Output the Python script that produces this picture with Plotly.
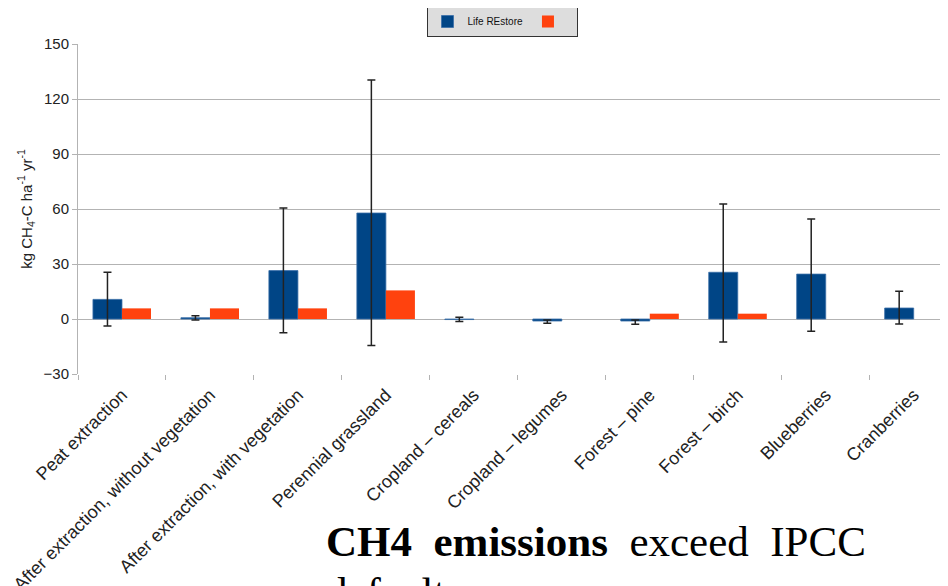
import plotly.graph_objects as go

categories = ["Peat extraction", "After extraction, without vegetation",
              "After extraction, with vegetation", "Perennial grassland",
              "Cropland – cereals", "Cropland – legumes", "Forest – pine",
              "Forest – birch", "Blueberries", "Cranberries"]
life_restore = [10.7, 0.7, 26.4, 57.8, -0.3, -1.1, -1.1, 25.5, 24.5, 6.0]
err_plus = [14.8, 1.1, 34.1, 72.6, 1.2, 0.6, 0.5, 37.2, 30.0, 9.1]
err_minus = [14.5, 1.2, 33.9, 72.3, 1.1, 1.2, 1.8, 38.1, 31.2, 8.7]
ipcc = [5.8, 5.8, 5.8, 15.6, None, None, 2.9, 2.9, None, None]
y_ticks = [-30, 0, 30, 60, 90, 120, 150]

W, H = 948, 586
OFF = 8  # page body margin offset
L, T = 78 - OFF, 44 - OFF
B = H - (374 - OFF)
R = W - (948 - OFF)
PH = H - T - B
PW = W - L - R


def py(pix):
    # screen pixel row -> paper y
    return (H - B - (pix - OFF)) / PH


def px(pix):
    return (pix - OFF - L) / PW


fig = go.Figure()
fig.add_trace(go.Bar(
    x=categories, y=life_restore, name="Life REstore",
    marker=dict(color="#004586", line=dict(color="#3a6fa8", width=0.8)),
    error_y=dict(type="data", symmetric=False, array=err_plus, arrayminus=err_minus,
                 color="#222222", thickness=1.5, width=4),
))
fig.add_trace(go.Bar(
    x=categories, y=ipcc, name=" ",
    marker=dict(color="#ff420e", line=dict(width=0)),
))

fig.update_layout(
    width=W, height=H,
    margin=dict(l=L, r=R, t=T, b=B, autoexpand=False),
    paper_bgcolor="white", plot_bgcolor="white",
    barmode="group", bargap=0.34, bargroupgap=0,
    font=dict(family="Liberation Sans, Arial, sans-serif", size=13, color="#222222"),
    showlegend=True,
    legend=dict(orientation="h", x=px(502), xanchor="center", y=py(6), yanchor="top",
                bgcolor="#dddddd", bordercolor="#333333", borderwidth=1,
                font=dict(size=10, color="#111111"), itemwidth=30,
                tracegroupgap=0),
    xaxis=dict(
        range=[-0.5, 9.39], tickangle=-45, tickson="boundaries",
        ticks="outside", ticklen=5, tickcolor="#b3b3b3", ticklabelstandoff=6,
        showline=False, showgrid=False, zeroline=False, automargin=False,
        tickfont=dict(size=18, color="#222222"),
    ),
    yaxis=dict(
        range=[-30, 150], tickvals=y_ticks, ticks="outside", ticklen=5,
        tickcolor="#b3b3b3", showline=True, linecolor="#b3b3b3", linewidth=1,
        showgrid=True, gridcolor="#b3b3b3", gridwidth=1,
        zeroline=True, zerolinecolor="#b3b3b3", zerolinewidth=1, automargin=False,
        tickfont=dict(size=15, color="#222222"),
        title=dict(text="kg CH<sub>4</sub>-C ha<sup>-1</sup> yr<sup>-1</sup>",
                   font=dict(size=15, color="#222222"), standoff=7),
    ),
)

serif = dict(family="Liberation Serif, Times New Roman, serif", size=43, color="#000000")
fig.add_annotation(
    xref="paper", yref="paper", x=px(324), y=py(516),
    xanchor="left", yanchor="top", showarrow=False, align="left",
    text="<b>CH4  emissions</b>  exceed  IPCC", font=serif,
)
fig.add_annotation(
    xref="paper", yref="paper", x=px(324), y=py(567),
    xanchor="left", yanchor="top", showarrow=False, align="left",
    text="defaults", font=serif,
)

fig.write_html("out.html")
